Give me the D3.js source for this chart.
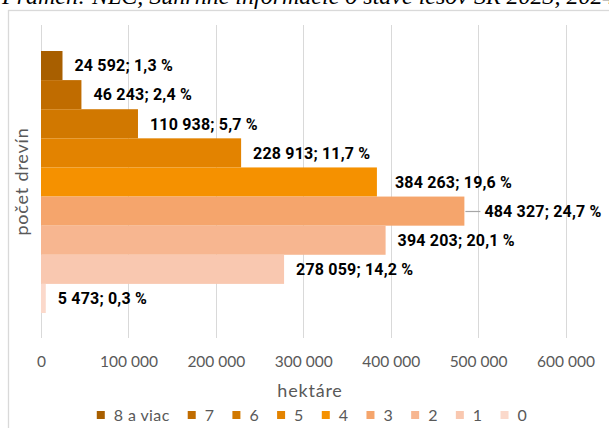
<!DOCTYPE html>
<html>
<head>
<meta charset="utf-8">
<script src="https://cdn.jsdelivr.net/npm/d3@7"></script>
<style>
  html, body { margin: 0; padding: 0; background: #ffffff; overflow: hidden; }
  svg { display: block; }
</style>
</head>
<body>
<svg id="chart" width="609" height="428"></svg>
<script>
// ---- data ----
const categories = ["8 a viac", "7", "6", "5", "4", "3", "2", "1", "0"];
const hectares   = [24592, 46243, 110938, 228913, 384263, 484327, 394203, 278059, 5473];
const percents   = [1.3, 2.4, 5.7, 11.7, 19.6, 24.7, 20.1, 14.2, 0.3];
const colors     = ["#A85F00", "#C06C00", "#D17800", "#E38300", "#F59100", "#F5A56C", "#F7B690", "#F9C8B0", "#FBD9CB"];
const xTicks     = [0, 100000, 200000, 300000, 400000, 500000, 600000];
const xTitle     = "hektáre";
const yTitle     = "počet drevín";
const sourceText = "Prameň: NLC, Súhrnné informácie o stave lesov SR 2023, 2024";

// ---- layout ----
const W = 609, H = 428;
const plot = { left: 41, right: 565.5, top: 25, bottom: 338 };
const barsTop = 51, barsBottom = 313;
const gridColor = "#D9D9D9";
const textColor = "#595959";

const svg = d3.select("#chart");
const loc = d3.formatLocale({ decimal: ",", thousands: "\u00a0", grouping: [3], currency: ["", ""] });
const fmtInt = loc.format(",d");
const fmtPct = loc.format(",.1f");

const x = d3.scaleLinear().domain([0, 600000]).range([plot.left, plot.right]);
const y = d3.scaleBand().domain(categories).range([barsTop, barsBottom]).padding(0);

// cropped source line at the top (cut off by the page edge, as in the reference)
svg.append("text")
  .attr("x", 2).attr("y", 4)
  .attr("font-family", "'Liberation Serif', serif")
  .attr("font-style", "italic")
  .attr("font-size", 24)
  .attr("fill", "#000")
  .text(sourceText);

// chart border
svg.append("rect")
  .attr("x", 8.5).attr("y", 10.5)
  .attr("width", 620).attr("height", 440)
  .attr("fill", "#fff")
  .attr("stroke", gridColor).attr("stroke-width", 1.3);

// gridlines
svg.append("g")
  .selectAll("line")
  .data(xTicks)
  .join("line")
  .attr("x1", d => Math.round(x(d)) + 0.5)
  .attr("x2", d => Math.round(x(d)) + 0.5)
  .attr("y1", plot.top).attr("y2", plot.bottom)
  .attr("stroke", gridColor).attr("stroke-width", 1);

// axis tick labels (via d3 axis, lines hidden)
const xAxis = d3.axisBottom(x).tickValues(xTicks).tickFormat(fmtInt).tickSize(0).tickPadding(0);
const gx = svg.append("g").attr("transform", `translate(0, ${plot.bottom})`).call(xAxis);
gx.select(".domain").remove();
gx.selectAll("text")
  .attr("y", 29).attr("dy", 0)
  .attr("font-family", "Lato, sans-serif")
  .attr("font-size", 15.5)
  .attr("fill", textColor);

// bars
svg.append("g")
  .selectAll("rect")
  .data(categories)
  .join("rect")
  .attr("x", x(0))
  .attr("y", d => y(d))
  .attr("width", (d, i) => x(hectares[i]) - x(0))
  .attr("height", y.bandwidth())
  .attr("fill", (d, i) => colors[i]);

// data labels
const labelGap = 12;
const leaderCat = "3";
const extraGap = { "4": 6, "3": 8 };
const labels = svg.append("g")
  .selectAll("text")
  .data(categories)
  .join("text")
  .attr("x", (d, i) => x(hectares[i]) + labelGap + (extraGap[d] || 0))
  .attr("y", d => y(d) + y.bandwidth() / 2)
  .attr("dy", "0.36em")
  .attr("font-family", "Roboto, sans-serif")
  .attr("font-weight", 700)
  .attr("font-size", 16)
  .attr("fill", "#000")
  .text((d, i) => `${fmtInt(hectares[i])}; ${fmtPct(percents[i])} %`);

// fit letter spacing so that widest label is ~117px
(function fitLabels() {
  const node = labels.nodes()[categories.indexOf("3")];
  const w = node.getComputedTextLength();
  const n = node.textContent.length - 1;
  const ls = Math.max(-1, Math.min(2, (117 - w) / n));
  labels.attr("letter-spacing", ls.toFixed(2));
})();

// leader line for category 3
{
  const i = categories.indexOf(leaderCat);
  const yc = Math.round(y(leaderCat) + y.bandwidth() / 2) + 0.5;
  svg.append("line")
    .attr("x1", x(hectares[i]) + 1)
    .attr("x2", x(hectares[i]) + labelGap + extraGap[leaderCat] - 4)
    .attr("y1", yc).attr("y2", yc)
    .attr("stroke", "#A6A6A6").attr("stroke-width", 1.2);
}

// x axis title
svg.append("text")
  .attr("x", 310).attr("y", 396.5)
  .attr("text-anchor", "middle")
  .attr("font-family", "Lato, sans-serif")
  .attr("font-size", 18)
  .attr("letter-spacing", 0.8)
  .attr("fill", textColor)
  .text(xTitle);

// y axis title
svg.append("text")
  .attr("transform", `translate(28, ${(plot.top + plot.bottom) / 2}) rotate(-90)`)
  .attr("text-anchor", "middle")
  .attr("font-family", "Lato, sans-serif")
  .attr("font-size", 18)
  .attr("letter-spacing", 0.8)
  .attr("fill", textColor)
  .text(yTitle);

// legend
const legend = svg.append("g");
const items = legend.selectAll("g").data(categories).join("g");
items.append("rect")
  .attr("width", 8).attr("height", 8)
  .attr("y", 411)
  .attr("fill", (d, i) => colors[i]);
items.append("text")
  .attr("x", 17).attr("y", 420.5)
  .attr("font-family", "Lato, sans-serif")
  .attr("font-size", 16)
  .attr("letter-spacing", 0.4)
  .attr("fill", textColor)
  .text(d => d);
let cx = 0;
const offsets = [];
const itemGap = 18;
items.each(function () {
  const t = d3.select(this).select("text").node();
  offsets.push(cx);
  cx += 17 + t.getComputedTextLength() + itemGap;
});
const totalW = cx - itemGap;
const startX = 312 - totalW / 2;
items.attr("transform", (d, i) => `translate(${startX + offsets[i]}, 0)`);
</script>
</body>
</html>
